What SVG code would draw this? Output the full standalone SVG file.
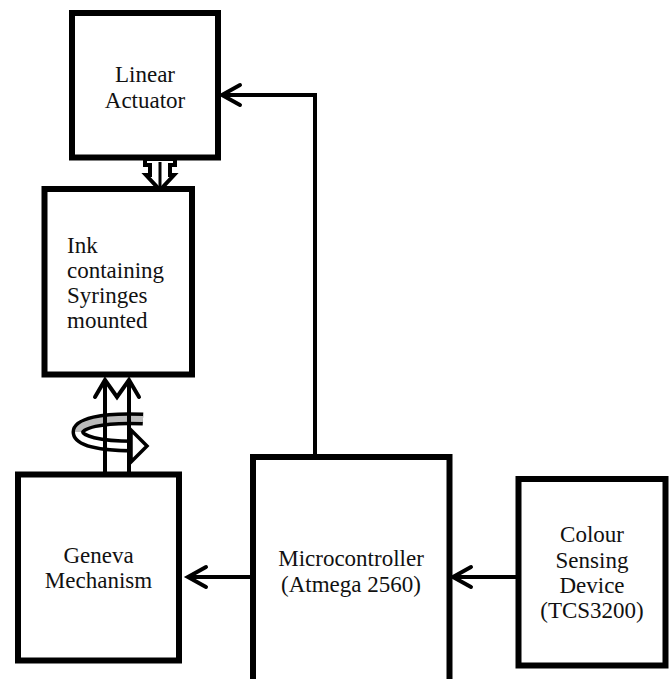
<svg xmlns="http://www.w3.org/2000/svg" width="670" height="679" viewBox="0 0 670 679">
<style>
.box{fill:#fff;stroke:#000;stroke-width:6}
.lbl{font-family:"Liberation Serif","Times New Roman",serif;font-size:23px;fill:#111}
.c{text-anchor:middle}
.ln{fill:none;stroke:#000;stroke-width:4}
.hd{fill:none;stroke:#000;stroke-width:4;stroke-linecap:round;stroke-linejoin:miter}
</style>
<rect width="670" height="679" fill="#fff"/>
<g id="connectors">
  <!-- Microcontroller to Linear Actuator -->
  <polyline class="ln" points="315,457 315,95 222,95"/>
  <polyline class="hd" points="240,85 222,95 240,105"/>
  <!-- Microcontroller to Geneva -->
  <line class="ln" x1="253" y1="577" x2="188" y2="577"/>
  <polyline class="hd" points="206,567 188,577 206,587"/>
  <!-- Colour sensor to Microcontroller -->
  <line class="ln" x1="518" y1="577" x2="453" y2="577"/>
  <polyline class="hd" points="471,567 453,577 471,587"/>
  <!-- Linear actuator to syringes: hollow down arrow -->
  <polygon points="145,159 175,159 175,165 170,165 170,175 174,175 160,190 146,175 150,175 150,165 145,165" fill="#fff" stroke="#000" stroke-width="4" stroke-linejoin="miter"/>
  <line x1="160" y1="162" x2="160" y2="190" stroke="#000" stroke-width="3"/>
  <!-- Geneva to syringes: rotation -->
  <path d="M 143 419 C 100 417 78 424 78 432" fill="none" stroke="#000" stroke-width="13"/>
  <path d="M 143 419 C 100 417 78 424 78 432" fill="none" stroke="#bbb" stroke-width="6"/>
  <path d="M 78 432 C 78 441 100 446 133 446" fill="none" stroke="#000" stroke-width="13"/>
  <path d="M 78 432 C 78 441 100 446 133 446" fill="none" stroke="#fff" stroke-width="6"/>
  <line class="ln" x1="105" y1="474" x2="105" y2="380"/>
  <line class="ln" x1="129" y1="474" x2="129" y2="380"/>
  <polyline class="hd" points="95,397 105,380 117,397 129,380 139,397"/>
  <polygon points="131,430 147,446 131,462" fill="#fff" stroke="#000" stroke-width="3.5" stroke-linejoin="miter"/>
</g>
<g id="linear-actuator">
  <rect class="box" x="72" y="13" width="146" height="144.5"/>
  <text class="lbl c" x="145" y="82">Linear</text>
  <text class="lbl c" x="145" y="108">Actuator</text>
</g>
<g id="syringes">
  <rect class="box" x="44.5" y="189" width="147.5" height="185.5"/>
  <text class="lbl" x="67" y="253">Ink</text>
  <text class="lbl" x="67" y="278">containing</text>
  <text class="lbl" x="67" y="303">Syringes</text>
  <text class="lbl" x="67" y="327.5">mounted</text>
</g>
<g id="geneva">
  <rect class="box" x="18" y="474.5" width="161" height="186"/>
  <text class="lbl c" x="98.5" y="563">Geneva</text>
  <text class="lbl c" x="98.5" y="588">Mechanism</text>
</g>
<g id="microcontroller">
  <rect class="box" x="253" y="457" width="196.5" height="240"/>
  <text class="lbl c" x="351" y="566">Microcontroller</text>
  <text class="lbl c" x="351" y="591.5">(Atmega 2560)</text>
</g>
<g id="colour-sensor">
  <rect class="box" x="518.5" y="479" width="147" height="186.5"/>
  <text class="lbl c" x="592" y="541.5">Colour</text>
  <text class="lbl c" x="592" y="567.5">Sensing</text>
  <text class="lbl c" x="592" y="593">Device</text>
  <text class="lbl c" x="592" y="618">(TCS3200)</text>
</g>
</svg>
